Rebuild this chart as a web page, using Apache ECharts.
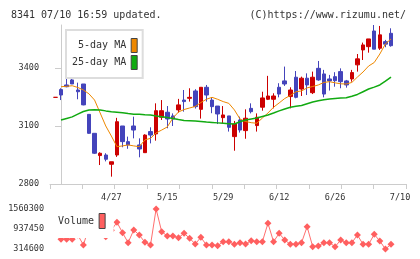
<!DOCTYPE html>
<html><head><meta charset="utf-8">
<script src="https://cdn.jsdelivr.net/npm/echarts@6.0.0/dist/echarts.min.js"></script>
<style>html,body{margin:0;padding:0;background:#fff}#c{width:420px;height:259px}</style>
</head><body><div id="c"></div>
<script>
// trading days (first entry is the partially shown day before the window)
const dates = ['4/13','4/14','4/15','4/16','4/17','4/20','4/21','4/22','4/23','4/24','4/27','4/28','4/30','5/1','5/7','5/8','5/11','5/12','5/13','5/14','5/15','5/18','5/19','5/20','5/21','5/22','5/25','5/26','5/27','5/28','5/29','6/1','6/2','6/3','6/4','6/5','6/8','6/9','6/10','6/11','6/12','6/15','6/16','6/17','6/18','6/19','6/22','6/23','6/24','6/25','6/26','6/29','6/30','7/1','7/2','7/3','7/6','7/7','7/8','7/9','7/10'];
const openP  = [3248,3288,3312,3338,3286,3317,3160,3062,2947,2950,2902,2950,3100,3019,3100,3002,2962,3071,3059,3145,3171,3152,3183,3234,3243,3281,3186,3300,3234,3203,3143,3152,3045,3131,3076,3191,3102,3197,3238,3238,3300,3333,3252,3352,3291,3347,3272,3398,3369,3343,3355,3381,3333,3343,3416,3493,3510,3591,3502,3536,3579];
const closeP = [3248,3260,3303,3317,3277,3209,3062,2959,2959,2928,2915,3122,3019,3002,3079,2981,3053,3053,3179,3179,3136,3136,3209,3226,3248,3200,3300,3260,3200,3162,3157,3093,3110,3079,3140,3174,3145,3245,3255,3255,3265,3317,3286,3248,3347,3312,3352,3338,3265,3333,3334,3329,3312,3376,3447,3519,3550,3497,3571,3523,3515];
const lowP   = [3248,3234,3300,3317,3238,3207,3060,2955,2898,2917,2838,2940,2990,2982,3036,2938,2962,3010,3024,3131,3088,3100,3169,3174,3226,3190,3138,3226,3166,3110,3114,3071,2972,3066,3034,3165,3071,3179,3234,3191,3248,3307,3191,3243,3255,3260,3265,3334,3248,3283,3303,3295,3298,3329,3381,3441,3479,3497,3493,3507,3510];
const highP  = [3248,3295,3359,3376,3324,3317,3160,3062,2964,2959,2915,3142,3100,3045,3148,3036,3057,3093,3217,3234,3203,3165,3240,3286,3295,3290,3300,3312,3248,3203,3203,3152,3126,3148,3186,3217,3165,3277,3359,3269,3321,3407,3300,3384,3355,3372,3381,3436,3390,3364,3378,3398,3338,3390,3472,3531,3550,3622,3617,3545,3605];
const ma5  = [null,3303,3305,3308,3299,3286,3266,3234,3167,3100,3048,2993,2997,3002,2997,2993,3028,3036,3064,3079,3095,3141,3172,3185,3193,3201,3221,3238,3248,3238,3226,3217,3183,3136,3123,3117,3114,3141,3167,3197,3219,3242,3258,3277,3281,3297,3304,3312,3325,3329,3323,3318,3317,3325,3353,3379,3410,3428,3472,3524,3550];
const ma25 = [null,3131,3139,3147,3161,3175,3183,3184,3183,3178,3174,3171,3168,3164,3161,3160,3158,3157,3152,3148,3144,3139,3133,3128,3127,3126,3123,3120,3118,3116,3114,3112,3110,3122,3131,3136,3141,3149,3157,3167,3178,3188,3197,3202,3206,3215,3224,3230,3236,3239,3242,3244,3246,3254,3263,3277,3291,3301,3312,3332,3353];
const volume = [null,616000,616000,616000,750000,439000,1000000,1250000,950000,698000,900000,1146000,822000,511000,906000,750000,523000,439000,1560300,853000,719000,719000,667000,803000,646000,470000,678000,439000,439000,418000,542000,542000,460000,511000,470000,573000,542000,542000,1115000,542000,803000,594000,460000,460000,511000,1009000,387000,408000,511000,511000,387000,594000,511000,511000,750000,460000,460000,771000,563000,314600,460000];
const priceTicks = [2800, 3100, 3400];
const volumeTicks = [314600, 937450, 1560300];
const dateLabelDays = ['4/27','5/15','5/29','6/12','6/26','7/10'];

const pos = dates.map((d, i) => i - 1);
const candleData = pos.map((x, i) => [x, openP[i], closeP[i], lowP[i], highP[i]]);
const ma5Data = pos.map((x, i) => [x, ma5[i]]);
const ma25Data = pos.map((x, i) => [x, ma25[i]]);
const volData = pos.map((x, i) => [x, volume[i]]);
const labelPos = dateLabelDays.map(d => pos[dates.indexOf(d)]);

const xMin = -1.97, xMax = 61.68;
const xTickPos = [];
for (let k = 0; k <= 11; k++) xTickPos.push(xMin + (xMax - xMin) * k / 11);

const FONT = 'DejaVu Sans Mono';
const plain = v => String(Math.round(v));
const chart = echarts.init(document.getElementById('c'), null, {renderer: 'canvas'});
chart.setOption({
  animation: false,
  backgroundColor: '#fff',
  title: [
    {text: '8341 07/10 16:59 updated.', left: 6, top: 5, textStyle: {fontFamily: FONT, fontSize: 10, fontWeight: 'normal', color: '#333'}},
    {text: '(C)https://www.rizumu.net/', right: 9, top: 5, textStyle: {fontFamily: FONT, fontSize: 10, fontWeight: 'normal', color: '#333'}}
  ],
  legend: [
    {
      data: ['5-day MA', '25-day MA'], orient: 'vertical', align: 'right',
      left: 66, top: 30, padding: [8, 5, 8, 6], itemGap: 2,
      itemWidth: 6, itemHeight: 14, icon: 'rect',
      itemStyle: {borderColor: '#444', borderWidth: 1},
      backgroundColor: '#fff', borderColor: '#ddd', borderWidth: 2,
      formatter: n => n.length < 9 ? ' ' + n : n,
      textStyle: {fontFamily: FONT, fontSize: 10, color: '#333'},
      selectedMode: false
    },
    {
      data: ['Volume'], align: 'right',
      left: 55, top: 207, padding: [6, 8, 9, 3],
      itemWidth: 6, itemHeight: 15, icon: 'rect',
      itemStyle: {borderColor: '#444', borderWidth: 1},
      backgroundColor: '#fff', borderWidth: 0,
      textStyle: {fontFamily: FONT, fontSize: 10, color: '#333'},
      selectedMode: false
    }
  ],
  grid: [
    {left: 50, right: 14, top: 25, height: 159},
    {left: 50, right: 14, top: 209, height: 40}
  ],
  xAxis: [
    {
      type: 'value', gridIndex: 0, min: xMin, max: xMax,
      axisLine: {lineStyle: {color: '#ccc'}},
      axisTick: {customValues: xTickPos, length: 5, lineStyle: {color: '#ccc'}},
      axisLabel: {
        customValues: labelPos, margin: 9, fontFamily: FONT, fontSize: 8.5, color: '#333',
        formatter: v => {
          const d = dates[Math.round(v) + 1];
          return d === '7/10' ? '{r|' + d + '}' : d;
        },
        rich: {r: {fontFamily: FONT, fontSize: 8.5, color: '#333', padding: [0, 0, 0, 18]}}
      },
      splitLine: {show: false}
    },
    {
      type: 'value', gridIndex: 1, min: xMin, max: xMax, show: false
    }
  ],
  yAxis: [
    {
      type: 'value', gridIndex: 0, min: 2800, max: 3622,
      axisLine: {show: true, lineStyle: {color: '#ccc'}},
      axisTick: {show: true, customValues: priceTicks, length: 6, lineStyle: {color: '#ccc'}},
      axisLabel: {customValues: priceTicks, formatter: plain, margin: 11, fontFamily: FONT, fontSize: 8.5, color: '#333'},
      splitLine: {show: false}
    },
    {
      type: 'value', gridIndex: 1, min: 314600, max: 1560300,
      axisLine: {show: false}, axisTick: {show: false},
      axisLabel: {customValues: volumeTicks, formatter: plain, margin: 6, fontFamily: FONT, fontSize: 8.5, color: '#333'},
      splitLine: {show: false}
    }
  ],
  series: [
    {
      type: 'candlestick', name: 'Price', xAxisIndex: 0, yAxisIndex: 0,
      data: candleData, barWidth: 4,
      itemStyle: {color: '#cc0000', color0: '#4444bb', borderColor: '#cc0000', borderColor0: '#4444bb', borderWidth: 1}
    },
    {
      type: 'line', name: '5-day MA', xAxisIndex: 0, yAxisIndex: 0, data: ma5Data,
      symbol: 'none', color: '#ee8800', lineStyle: {width: 1, color: '#ee8800'}
    },
    {
      type: 'line', name: '25-day MA', xAxisIndex: 0, yAxisIndex: 0, data: ma25Data,
      symbol: 'none', color: '#11aa11', lineStyle: {width: 1.5, color: '#11aa11'}
    },
    {
      type: 'line', name: 'Volume', xAxisIndex: 1, yAxisIndex: 1, data: volData,
      symbol: 'diamond', symbolSize: 7, color: '#ff5f5f',
      itemStyle: {color: '#ff5f5f'},
      lineStyle: {width: 1, color: '#ff6f6f'}
    }
  ]
});
</script></body></html>
